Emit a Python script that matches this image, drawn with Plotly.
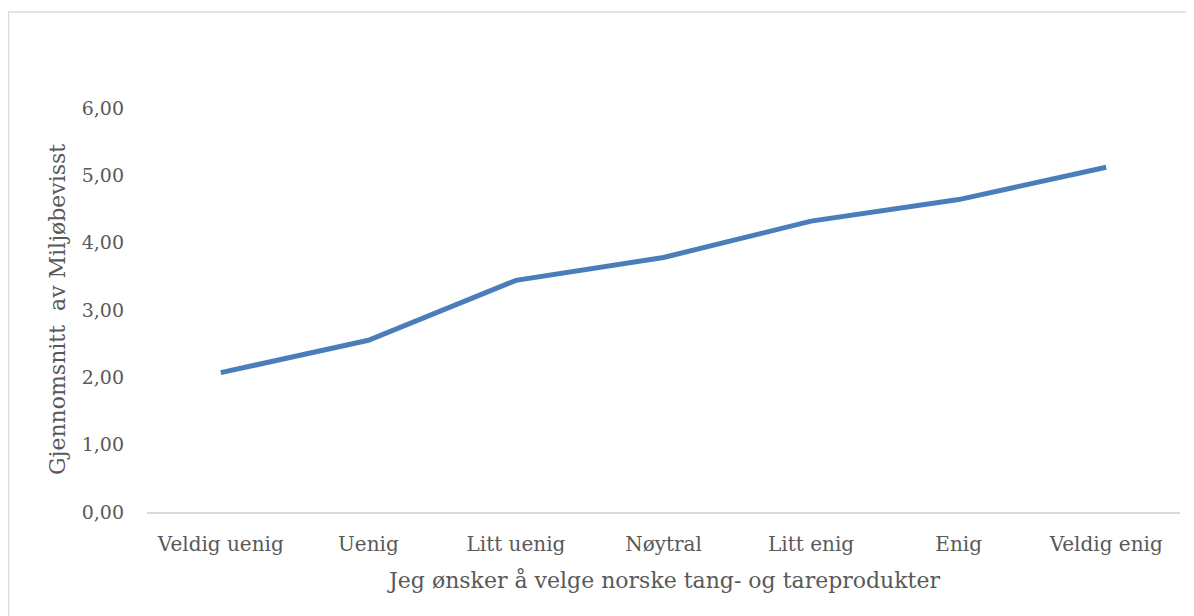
import plotly.graph_objects as go

categories = ["Veldig uenig", "Uenig", "Litt uenig", "Nøytral", "Litt enig", "Enig", "Veldig enig"]
values = [2.07, 2.55, 3.44, 3.78, 4.32, 4.64, 5.12]
y_ticks = [0, 1, 2, 3, 4, 5, 6]
y_tick_labels = ["0,00", "1,00", "2,00", "3,00", "4,00", "5,00", "6,00"]
x_title = "Jeg ønsker å velge norske tang- og tareprodukter"
y_title = "Gjennomsnitt  av Miljøbevisst"

W, H = 1194, 616
L, R, T, B = 139, 22, 100, 112
pw, ph = W - L - R, H - T - B

font_family = "DejaVu Serif"
grey = "#595959"


def px_to_paper_x(px):
    return (px - L) / pw


def px_to_paper_y(py):
    return (H - B - py) / ph


fig = go.Figure(go.Scatter(
    x=categories, y=values, mode="lines",
    line=dict(color="#4a7ebb", width=5),
))

fig.update_layout(
    width=W, height=H,
    margin=dict(l=L, r=R, t=T, b=B),
    paper_bgcolor="white", plot_bgcolor="white",
    showlegend=False,
    font=dict(family=font_family, color=grey, size=19),
    xaxis=dict(
        type="category", showgrid=False, zeroline=False,
        showline=True, linecolor="#d9d9d9", linewidth=1.5,
        ticks="", tickfont=dict(size=20, color=grey),
        ticklabelstandoff=13,
        range=[-0.5, 6.5],
    ),
    yaxis=dict(
        range=[0, 6], tickvals=y_ticks, ticktext=y_tick_labels,
        showgrid=False, zeroline=False, showline=False, ticks="",
        tickfont=dict(size=19, color=grey),
        ticklabelstandoff=22,
    ),
    annotations=[
        dict(text=x_title, xref="paper", yref="paper",
             x=0.5, y=px_to_paper_y(572), xanchor="center", yanchor="middle",
             showarrow=False, font=dict(size=22, color=grey)),
        dict(text=y_title, xref="paper", yref="paper", textangle=-90,
             x=px_to_paper_x(49), y=0.5, xanchor="center", yanchor="middle",
             showarrow=False, font=dict(size=22, color=grey)),
    ],
    shapes=[dict(
        type="rect", xref="paper", yref="paper",
        x0=px_to_paper_x(0.5), x1=px_to_paper_x(1200),
        y0=px_to_paper_y(620), y1=px_to_paper_y(4),
        line=dict(color="#d9d9d9", width=1.5), layer="below",
    )],
)

fig.write_html("out.html")
